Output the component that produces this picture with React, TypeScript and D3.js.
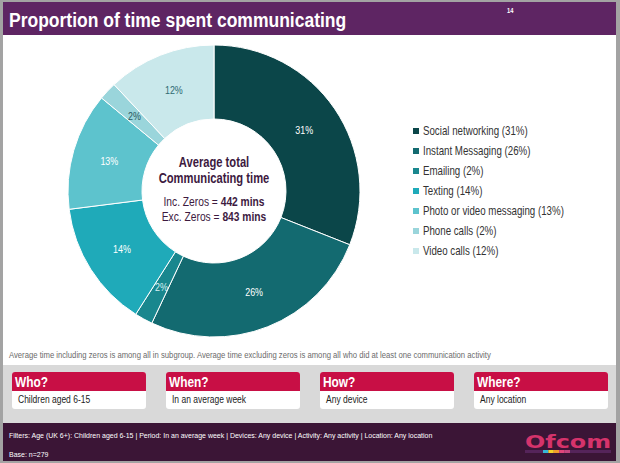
import React from 'react';
import * as d3 from 'd3';

const categories = ['Social networking', 'Instant Messaging', 'Emailing', 'Texting', 'Photo or video messaging', 'Phone calls', 'Video calls'];
const shares = [31, 26, 2, 14, 13, 2, 12];
const sliceColors = ['#0b4649', '#136a70', '#19878e', '#1faab9', '#5dc3cd', '#9ad5db', '#c9e8eb'];
const labelColors = ['#ffffff', '#ffffff', '#d8f0f2', '#ffffff', '#ffffff', '#2a5a60', '#2f6a72'];

const boxTitles = ['Who?', 'When?', 'How?', 'Where?'];
const boxValues = ['Children aged 6-15', 'In an average week', 'Any device', 'Any location'];

const FONT = '"Liberation Sans", Arial, sans-serif';

const W = 620;
const H = 463;

// no narrow font installed, so squeeze Arial horizontally
const T = ({ x, y, sx = 0.82, children, ...rest }: any) => (
  <text transform={`translate(${x},${y}) scale(${sx},1)`} fontFamily={FONT} {...rest}>
    {children}
  </text>
);

export default function App() {
  const cx = 214;
  const cy = 191;
  const outerR = 146;
  const innerR = 72;

  const pie = d3.pie<number>().sort(null).value(d => d);
  const arcs = pie(shares);
  const arc = d3.arc<d3.PieArcDatum<number>>().innerRadius(innerR).outerRadius(outerR);

  const legendY = d3.scalePoint<string>().domain(categories).range([131, 251]);

  const boxX = d3.scaleBand<string>().domain(boxTitles).range([12, 608]).paddingInner(0.13).paddingOuter(0);

  const stripe = ['#35b6d6', '#f4d22a', '#f39a2c', '#e0467a', '#c3457e'];

  return (
    <svg width={W} height={H} style={{ position: 'absolute', left: 0, top: 0 }}>
      {/* frame */}
      <rect x={0} y={0} width={W} height={H} fill="#a3a3a3" />
      <rect x={3} y={2} width={613} height={34} fill="#5e2563" />
      <rect x={3} y={35} width={613} height={330} fill="#ffffff" />
      <rect x={3} y={365} width={613} height={58} fill="#d9d9d9" />
      <rect x={3} y={423} width={613} height={38} fill="#3b1536" />

      <T x={9} y={27} sx={0.875} fill="#fff" fontWeight="bold" fontSize={20}>
        Proportion of time spent communicating
      </T>
      <T x={507} y={13} fill="#fff" fontWeight="bold" fontSize={7}>14</T>

      {/* donut */}
      <g transform={`translate(${cx},${cy})`}>
        {arcs.map((a, i) => (
          <path key={categories[i]} d={arc(a) || ''} fill={sliceColors[i]} stroke="#fff" strokeWidth={1} />
        ))}
        {arcs.map((a, i) => {
          const [x, y] = arc.centroid(a);
          return (
            <T key={'l' + i} x={x} y={y + 4} sx={0.85} textAnchor="middle" fontSize={10.5} fill={labelColors[i]}>
              {shares[i]}%
            </T>
          );
        })}
        <T x={0} y={-24} sx={0.8} textAnchor="middle" fontWeight="bold" fontSize={14} fill="#3d1a3f">Average total</T>
        <T x={0} y={-8} sx={0.8} textAnchor="middle" fontWeight="bold" fontSize={14} fill="#3d1a3f">Communicating time</T>
        <T x={0} y={15} sx={0.82} textAnchor="middle" fontSize={12.5} fill="#3d1a3f">
          Inc. Zeros = <tspan fontWeight="bold">442 mins</tspan>
        </T>
        <T x={0} y={30} sx={0.82} textAnchor="middle" fontSize={12.5} fill="#3d1a3f">
          Exc. Zeros = <tspan fontWeight="bold">843 mins</tspan>
        </T>
      </g>

      {/* legend */}
      {categories.map((c, i) => (
        <g key={'lg' + c} transform={`translate(413,${legendY(c)})`}>
          <rect x={0} y={-3} width={6} height={6} fill={sliceColors[i]} />
          <T x={10} y={4} sx={0.81} fontSize={12} fill="#333">
            {c} ({shares[i]}%)
          </T>
        </g>
      ))}

      <T x={9} y={358} sx={0.94} fontSize={8.2} fill="#6b6b6b">
        Average time including zeros is among all in subgroup. Average time excluding zeros is among all who did at least one communication activity
      </T>

      {/* who / when / how / where */}
      {boxTitles.map((t, i) => {
        const x = boxX(t) as number;
        const w = boxX.bandwidth();
        return (
          <g key={t}>
            <rect x={x} y={372} width={w} height={37} rx={3} fill="#ffffff" />
            <path d={`M${x},391 V375 a3,3 0 0 1 3,-3 H${x + w - 3} a3,3 0 0 1 3,3 V391 Z`} fill="#c80f45" />
            <T x={x + 3} y={387} sx={0.85} fontWeight="bold" fontSize={14} fill="#fff">{t}</T>
            <T x={x + 6} y={403} sx={0.85} fontSize={10} fill="#222">{boxValues[i]}</T>
          </g>
        );
      })}

      {/* footer */}
      <T x={9} y={438} sx={0.92} fontSize={7.6} fill="#fff">
        Filters: Age (UK 6+): Children aged 6-15 | Period: In an average week | Devices: Any device  | Activity: Any activity | Location: Any location
      </T>
      <T x={9} y={457} sx={0.92} fontSize={7.6} fill="#fff">Base: n=279</T>

      <text x={525} y={448} fontFamily="'DejaVu Sans', sans-serif" fontWeight="bold" fontSize={17} fill="#d5336b" textLength={86} lengthAdjust="spacingAndGlyphs">
        Ofcom
      </text>
      <rect x={525} y={450} width={86} height={3} fill="#55245a" />
      {stripe.map((c, i) => (
        <rect key={c} x={543 + i * 5.4} y={450} width={5.4} height={3} fill={c} />
      ))}
    </svg>
  );
}
